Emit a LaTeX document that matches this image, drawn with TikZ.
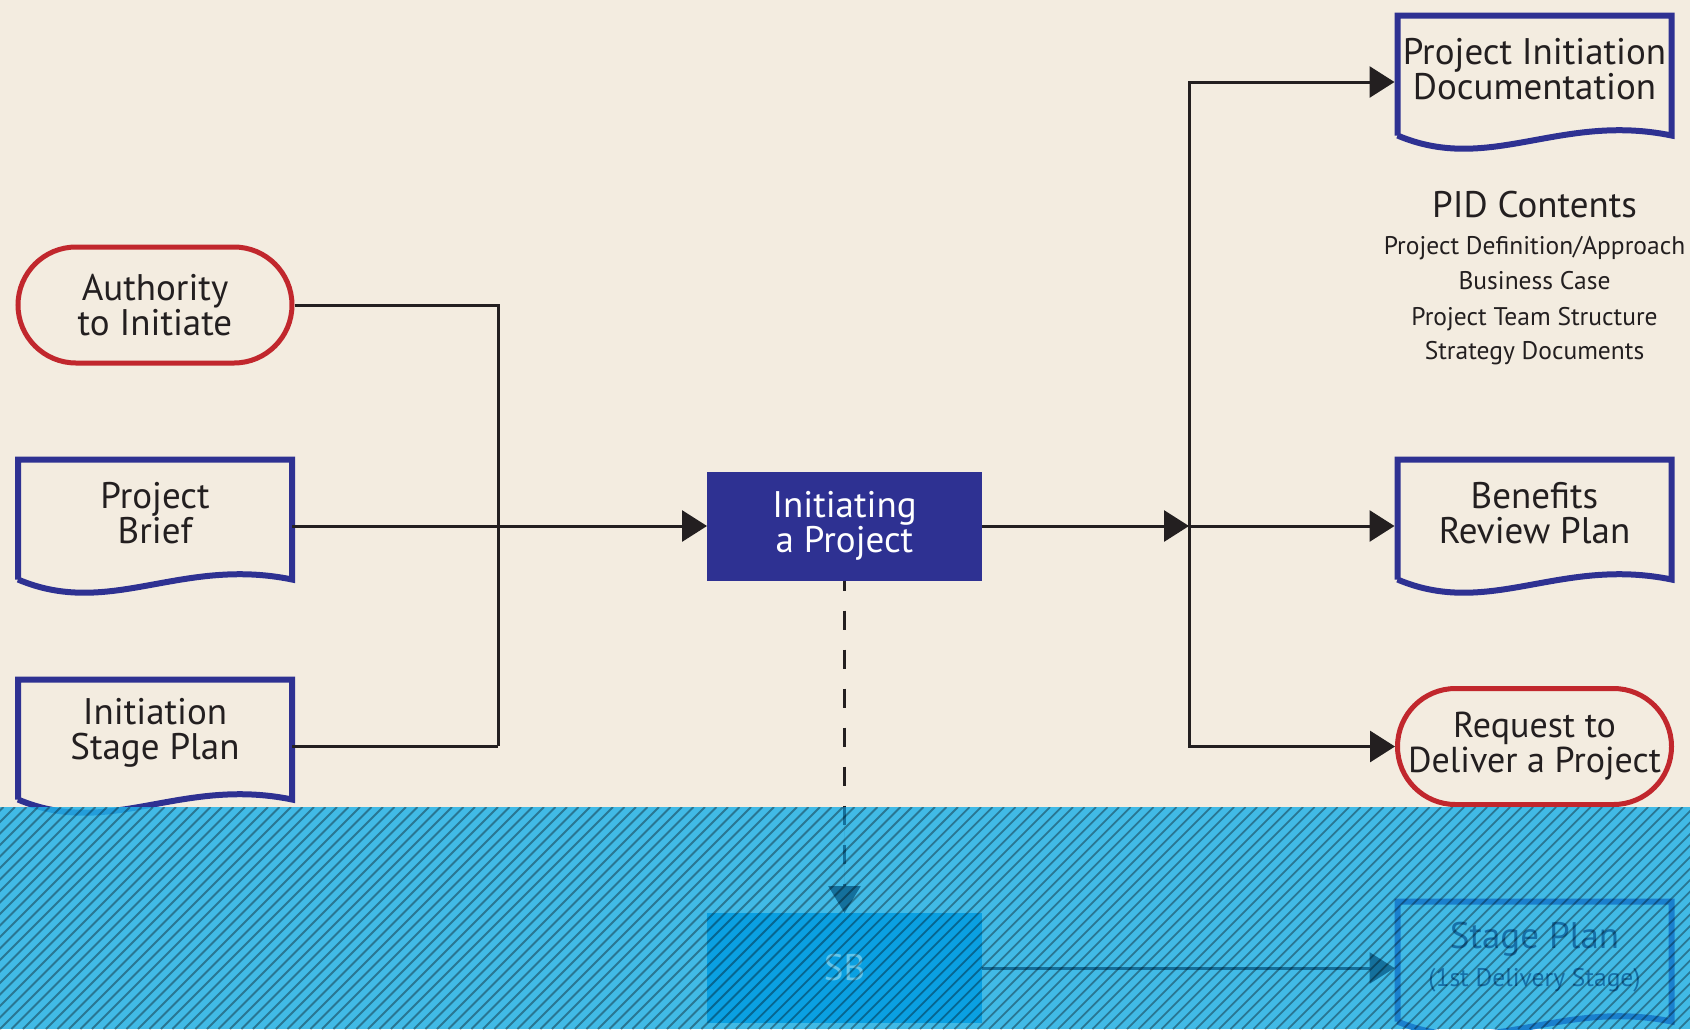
\documentclass[tikz,border=0pt]{standalone}
\usepackage{fontspec}
\setmainfont{PT Sans}
\usetikzlibrary{arrows.meta,calc}
\definecolor{bgbeige}{HTML}{F3ECE0}
\definecolor{navy}{HTML}{2E3192}
\definecolor{pillred}{HTML}{C1272D}
\definecolor{inkblack}{HTML}{231F20}
\definecolor{overlaycyan}{RGB}{34,178,232}
\definecolor{sbfill}{HTML}{0AA0E2}
\definecolor{sbtext}{HTML}{62C6EC}
\definecolor{spborder}{HTML}{1A80CE}
\definecolor{sptext}{HTML}{1670A8}
\definecolor{regionink}{HTML}{14709C}
\newcommand\txtL{\fontsize{37}{35}\selectfont}
\newcommand\txtR{\fontsize{36}{35}\selectfont}
\newcommand\txtM{\fontsize{37}{35}\selectfont}
\newcommand\txtS{\fontsize{25.5}{30}\selectfont}
\newcommand\docshape[2]{%
  \draw[draw=#2,line width=6pt,line join=miter]
    ($(#1.south west)+(0,-13)$) -- (#1.north west) -- (#1.north east) -- ($(#1.south east)+(0,-13)$)
    .. controls ($(#1.south east)+(-112,-36)$) and ($(#1.south east)+(-182,26)$) .. ($(#1.south west)+(0,-13)$);}
\begin{document}
\begin{tikzpicture}[x=1pt,y=-1pt,
  conn/.style={draw=inkblack,line width=3pt},
  tipped/.style={-{Triangle[length=25pt,width=31pt]}},
  pill/.style={draw=pillred,line width=5pt,rounded corners=58pt,minimum width=274pt,minimum height=116pt,inner sep=0pt,align=center,font=\txtL,text=inkblack},
  docbox/.style={minimum width=274pt,minimum height=133pt,inner sep=0pt,outer sep=0pt},
  doctext/.style={align=center,font=\txtL,text=inkblack,inner sep=0pt},
  procbox/.style={minimum width=275pt,minimum height=109pt,inner sep=0pt,outer sep=0pt,align=center,font=\txtL},
  pidline/.style={anchor=base,font=\txtS,text=inkblack,inner sep=0pt},
]
\useasboundingbox (0,0) rectangle (1690,1029);
\fill[bgbeige] (0,0) rectangle (1690,1029);

% left column
\node[pill] (auth) at (155,305) {Authority\\to Initiate};
\node[docbox] (brief) at (155,526) {};
\docshape{brief}{navy}
\node[doctext] (brieftxt) at ([yshift=13pt]brief.center) {Project\\Brief};
\node[docbox] (isp) at (155,746) {};
\docshape{isp}{navy}
\node[doctext] (isptxt) at ([yshift=13pt]isp.center) {Initiation\\Stage Plan};

% process
\node[procbox,fill=navy,text=white] (init) at (844.5,526) {Initiating\\a Project};

% right column
\node[docbox] (pid) at (1534.5,82) {};
\docshape{pid}{navy}
\node[doctext] (pidtxt) at ([yshift=13pt]pid.center) {Project Initiation\\Documentation};
\node[anchor=base,font=\txtM,text=inkblack,inner sep=0pt] (pidc) at (1534.5,217) {PID Contents};
\node[pidline] (pidc1) at (1534.5,254) {Project Definition/Approach};
\node[pidline] (pidc2) at (1534.5,289) {Business Case};
\node[pidline] (pidc3) at (1534.5,325) {Project Team Structure};
\node[pidline] (pidc4) at (1534.5,359) {Strategy Documents};
\node[docbox] (brp) at (1534.5,526) {};
\docshape{brp}{navy}
\node[doctext] (brptxt) at ([yshift=13pt]brp.center) {Benefits\\Review Plan};
\node[pill,font=\txtR] (req) at (1534.5,746.5) {Request to\\Deliver a Project};

% connectors (upper)
\coordinate (lj) at (498,746);
\draw[conn] (auth.east) -| (lj);
\draw[conn] (isp.east) -- (lj);
\draw[conn,tipped] (brief.east) -- (init.west);
\coordinate (rj) at (1189,526);
\draw[conn,tipped] (init.east) -- (rj);
\draw[conn,tipped,shorten >=3pt] (rj) -- (brp.west);
\draw[conn,tipped,shorten >=3pt] (rj) |- (pid.west);
\draw[conn,tipped] (rj) |- (req.west);

% hatched region
\fill[overlaycyan,fill opacity=0.85] (0,807) rectangle (1690,1029);
\node[procbox,fill=sbfill,text=sbtext,minimum height=110pt] (sb) at (844.5,968) {SB};
\node[docbox] (stage) at (1534.5,968) {};
\docshape{stage}{spborder}
\node[anchor=base,font=\txtL,text=sptext,inner sep=0pt] (stagetxt) at (1534.5,948) {Stage Plan};
\node[anchor=base,font=\txtS,text=sptext,inner sep=0pt] (stagesub) at (1534.5,986) {(1st Delivery Stage)};
\draw[line width=3pt,draw=regionink,fill=regionink,tipped,shorten >=3pt] (sb.east) -- (stage.west);

% dashed connector: black above the band, tinted inside it
\begin{scope}
\clip (0,0) rectangle (1690,807);
\draw[conn,dash pattern=on 19pt off 20pt,dash phase=9pt,tipped] (init.south) -- (sb.north);
\end{scope}
\begin{scope}
\clip (0,807) rectangle (1690,1029);
\draw[line width=3pt,draw=regionink,fill=regionink,dash pattern=on 19pt off 20pt,dash phase=9pt,-{Triangle[length=27pt,width=32pt]}] (init.south) -- (sb.north);
\end{scope}

% hatching
\begin{scope}
\clip (0,807) rectangle (1690,1029);
\foreach \k in {-22,...,154} \draw[black,opacity=0.36,line width=1.8pt] (\k*11.5,1029) -- ++(222,-222);
\end{scope}
\end{tikzpicture}
\end{document}
